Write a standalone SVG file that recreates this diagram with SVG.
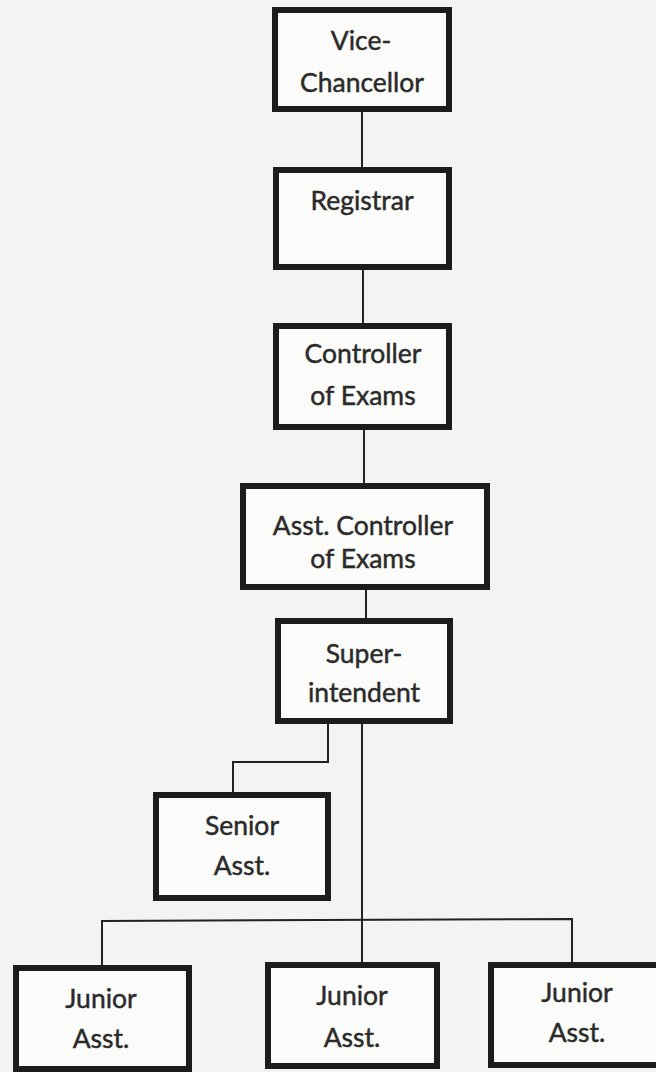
<svg xmlns="http://www.w3.org/2000/svg" width="656" height="1072" viewBox="0 0 656 1072">
  <style>
    .box { fill: #fbfbf9; stroke: #1c1c1c; stroke-width: 6; }
    .link { fill: none; stroke: #222; stroke-width: 2; }
    .lbl { font-family: Lato, "Open Sans", sans-serif; font-size: 26.5px; fill: #2a2a2a; stroke: #2a2a2a; stroke-width: 0.45; text-anchor: middle; }
  </style>
  <rect width="656" height="1072" fill="#f3f3f1"/>

  <g id="connectors">
    <line class="link" x1="362" y1="110" x2="362" y2="170"/>
    <line class="link" x1="363" y1="267" x2="363" y2="326"/>
    <line class="link" x1="364" y1="427" x2="364" y2="486"/>
    <line class="link" x1="366" y1="587" x2="366" y2="621"/>
    <polyline class="link" points="328,721 328,762 233,762 233,795"/>
    <line class="link" x1="362" y1="721" x2="362" y2="965"/>
    <polyline class="link" points="102,968 102,921 572,919 572,965"/>
  </g>

  <g id="vice-chancellor">
    <rect class="box" x="275" y="10" width="174" height="99"/>
    <text class="lbl" x="361" y="50">Vice-</text>
    <text class="lbl" x="362" y="92">Chancellor</text>
  </g>
  <g id="registrar">
    <rect class="box" x="276" y="170" width="173" height="97"/>
    <text class="lbl" x="362" y="210">Registrar</text>
  </g>
  <g id="controller">
    <rect class="box" x="276" y="326" width="173" height="101"/>
    <text class="lbl" x="363" y="363">Controller</text>
    <text class="lbl" x="363" y="405">of Exams</text>
  </g>
  <g id="asst-controller">
    <rect class="box" x="243" y="486" width="244" height="101"/>
    <text class="lbl" x="363" y="535">Asst. Controller</text>
    <text class="lbl" x="363" y="568">of Exams</text>
  </g>
  <g id="superintendent">
    <rect class="box" x="278" y="621" width="172" height="100"/>
    <text class="lbl" x="364" y="663">Super-</text>
    <text class="lbl" x="364" y="702">intendent</text>
  </g>
  <g id="senior-asst">
    <rect class="box" x="156" y="795" width="172" height="103"/>
    <text class="lbl" x="242" y="835">Senior</text>
    <text class="lbl" x="242" y="875">Asst.</text>
  </g>
  <g id="junior-asst-1">
    <rect class="box" x="16" y="968" width="173" height="101"/>
    <text class="lbl" x="101" y="1008">Junior</text>
    <text class="lbl" x="101" y="1048">Asst.</text>
  </g>
  <g id="junior-asst-2">
    <rect class="box" x="268" y="965" width="169" height="101"/>
    <text class="lbl" x="352" y="1005">Junior</text>
    <text class="lbl" x="352" y="1047">Asst.</text>
  </g>
  <g id="junior-asst-3">
    <rect class="box" x="491" y="965" width="180" height="100"/>
    <text class="lbl" x="577" y="1002">Junior</text>
    <text class="lbl" x="577" y="1042">Asst.</text>
  </g>
</svg>
